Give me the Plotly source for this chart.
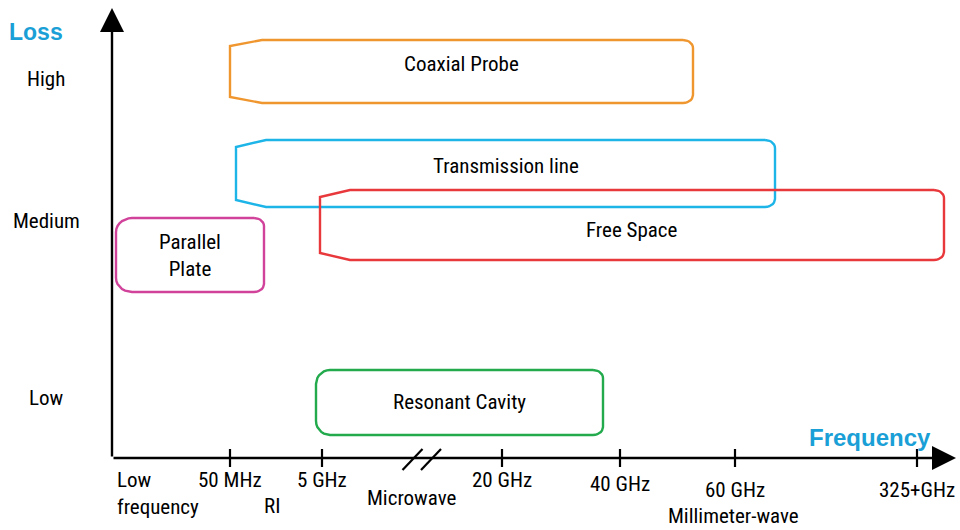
import numpy as np
import plotly.graph_objects as go

# --- dados (unidades do eixo: 1 = 100 px) ---
methods = ["Coaxial Probe", "Transmission line", "Free Space", "Parallel<br>Plate", "Resonant Cavity"]
x_start = [1.18, 1.24, 2.08, 0.04, 2.04]
x_end = [5.81, 6.63, 8.32, 1.52, 4.91]
y_low = [3.55, 2.51, 1.98, 1.66, 0.23]
y_high = [4.18, 3.18, 2.68, 2.40, 0.88]
label_y = [3.94, 2.92, 2.28, 2.03, 0.56]

loss_levels = ["High", "Medium", "Low"]
loss_pos = [3.79, 2.37, 0.60]

freq_ticks = ["50 MHz", "5 GHz", "20 GHz", "40 GHz", "60 GHz", "325+GHz"]
freq_pos = [1.18, 2.10, 3.90, 5.08, 6.23, 8.05]
freq_label_y = [-0.22, -0.22, -0.22, -0.26, -0.32, -0.32]

bands = ["Low<br>frequency", "RI", "Microwave", "Millimeter-wave"]
band_pos = [0.03, 1.60, 3.00, 6.21]
band_y = [-0.35, -0.48, -0.40, -0.58]

axis_break = 3.095

# --- estilos ---
cores = ["#F0962F", "#1DB4E8", "#E8383C", "#D1439B", "#22AA4D"]
# (cantos esquerdos cortados?, rx, ry)
cantos = [(True, 0.32, 0.06), (True, 0.30, 0.07), (True, 0.30, 0.07),
          (False, 0.16, 0.14), (False, 0.14, 0.14)]
FONTE = "Liberation Sans Narrow, Roboto Condensed, Roboto, sans-serif"
AZUL = "#1A9FD6"


def caixa(x0, x1, y0, y1, corte, rx, ry):
    t = np.linspace(0, np.pi / 2, 8)
    xs, ys = [], []
    # canto superior direito (arredondado)
    rrx, rry = 0.1, 0.08
    xs += list(x1 - rrx + rrx * np.sin(t)); ys += list(y1 - rry + rry * np.cos(t))
    # canto inferior direito
    xs += list(x1 - rrx + rrx * np.cos(t)); ys += list(y0 + rry - rry * np.sin(t))
    # lado esquerdo
    if corte:
        xs += [x0 + rx, x0]; ys += [y0, y0 + ry]
        xs += [x0, x0 + rx]; ys += [y1 - ry, y1]
    else:
        xs += list(x0 + rx - rx * np.sin(t)); ys += list(y0 + ry - ry * np.cos(t))
        xs += list(x0 + rx - rx * np.cos(t)); ys += list(y1 - ry + ry * np.sin(t))
    xs.append(xs[0]); ys.append(ys[0])
    return xs, ys


fig = go.Figure()

for i, nome in enumerate(methods):
    corte, rx, ry = cantos[i]
    xs, ys = caixa(x_start[i], x_end[i], y_low[i], y_high[i], corte, rx, ry)
    fig.add_trace(go.Scatter(x=xs, y=ys, mode="lines", line=dict(color=cores[i], width=2.4),
                             hoverinfo="skip", showlegend=False))
    fig.add_annotation(x=(x_start[i] + x_end[i]) / 2, y=label_y[i], text=nome,
                       showarrow=False, font=dict(size=21, color="black", family=FONTE))

# marcas dos ticks
tx, ty = [], []
for p in freq_pos:
    tx += [p, p, None]; ty += [0.09, -0.09, None]
# quebra do eixo
for d in (-0.09, 0.095):
    tx += [axis_break + d - 0.10, axis_break + d + 0.10, None]; ty += [-0.12, 0.09, None]
fig.add_trace(go.Scatter(x=tx, y=ty, mode="lines", line=dict(color="black", width=2.2),
                         hoverinfo="skip", showlegend=False))

# eixos com setas
fig.add_annotation(x=0, y=4.50, ax=0, ay=0, xref="x", yref="y", axref="x", ayref="y", text="",
                   showarrow=True, arrowhead=2, arrowsize=2, arrowwidth=2.4, arrowcolor="black")
fig.add_annotation(x=8.44, y=0, ax=0, ay=0, xref="x", yref="y", axref="x", ayref="y", text="",
                   showarrow=True, arrowhead=2, arrowsize=2, arrowwidth=2.4, arrowcolor="black")

for lab, p in zip(loss_levels, loss_pos):
    fig.add_annotation(x=-0.66, y=p, text=lab, showarrow=False,
                       font=dict(size=21, color="black", family=FONTE))

for lab, p, yy in zip(freq_ticks, freq_pos, freq_label_y):
    fig.add_annotation(x=p, y=yy, text=lab, showarrow=False,
                       font=dict(size=21, color="black", family=FONTE))

for lab, p, yy in zip(bands, band_pos, band_y):
    fig.add_annotation(x=p, y=yy, text=lab, showarrow=False, align="left",
                       xanchor="left" if p < 0.5 else "center",
                       font=dict(size=21, color="black", family=FONTE))

fig.add_annotation(x=-0.76, y=4.26, text="<b>Loss</b>", showarrow=False,
                   font=dict(size=23, color=AZUL, family="Arial, Liberation Sans, sans-serif"))
fig.add_annotation(x=7.58, y=0.21, text="<b>Frequency</b>", showarrow=False,
                   font=dict(size=24, color=AZUL, family="Arial, Liberation Sans, sans-serif"))

fig.update_layout(
    width=960, height=530, autosize=False,
    margin=dict(l=0, r=0, t=0, b=0),
    paper_bgcolor="white", plot_bgcolor="white",
    xaxis=dict(range=[-1.12, 8.48], visible=False, fixedrange=True),
    yaxis=dict(range=[-0.72, 4.58], visible=False, fixedrange=True),
)

fig.write_html("out.html", config={"displayModeBar": False},
               post_script="document.body.style.margin='0';")
